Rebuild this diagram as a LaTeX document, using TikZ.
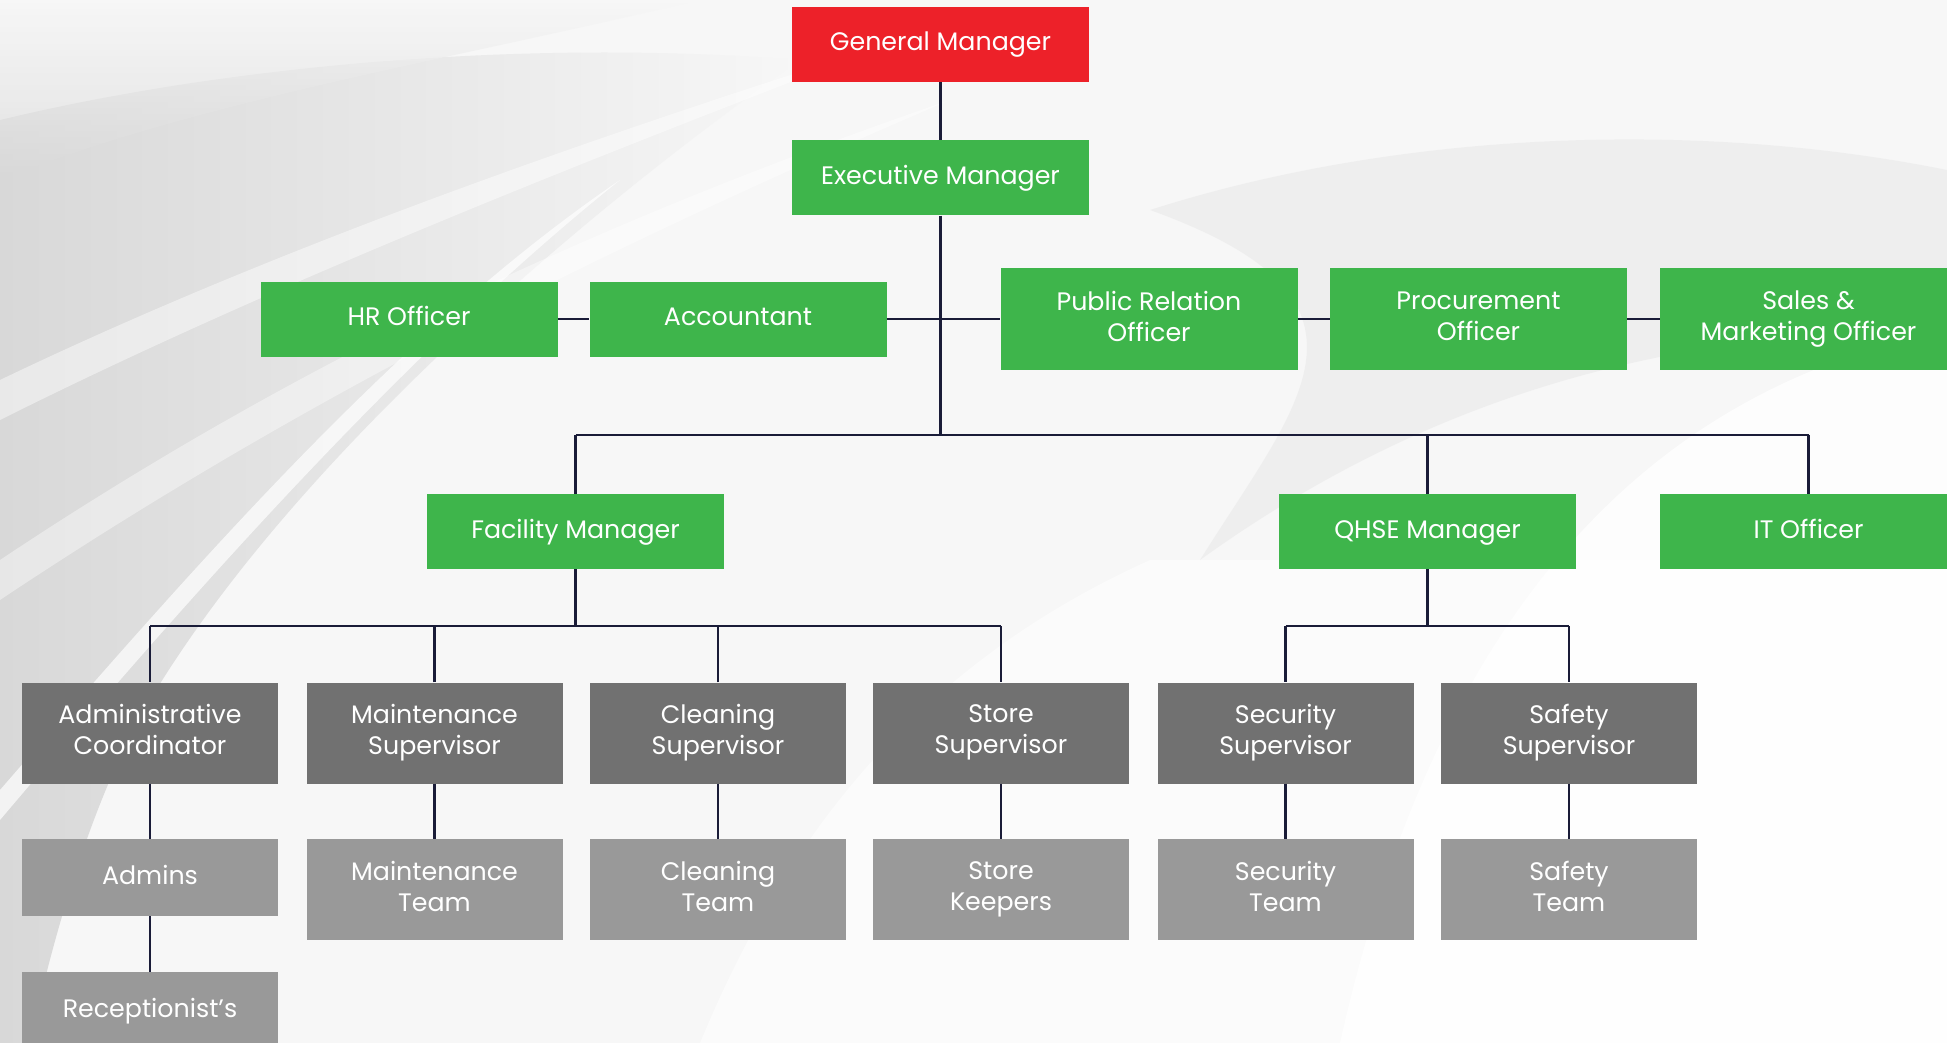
\documentclass[tikz,border=0pt]{standalone}
\usepackage{fontspec}
\setmainfont{Poppins}
\definecolor{gmred}{RGB}{237,33,41}
\definecolor{mgreen}{RGB}{62,181,75}
\definecolor{dgray}{RGB}{113,113,113}
\definecolor{lgray}{RGB}{153,153,153}
\definecolor{lineblue}{RGB}{26,28,56}
\definecolor{bgA}{RGB}{247,247,247}
\definecolor{bgB}{RGB}{216,216,216}
\definecolor{bgC}{RGB}{232,232,232}
\newcommand{\lnstrut}{\rule[-7.2pt]{0pt}{20pt}}
\newcommand{\gnstrut}{\rule[-5.2pt]{0pt}{22pt}}
\begin{document}
\begin{tikzpicture}[x=1pt,y=-1pt,
  box/.style={minimum width=297pt, minimum height=75pt, inner sep=0pt, text=white, align=center,
    font=\fontsize{25.3}{31}\selectfont},
  oneline/.style={text height=19pt, text depth=6pt},
  twoline/.style={execute at begin node=\lnstrut, execute at end node=\lnstrut},
  greentwoline/.style={execute at begin node=\gnstrut, execute at end node=\gnstrut},
  redbox/.style={box, oneline, fill=gmred},
  greenbox/.style={box, oneline, fill=mgreen},
  greentall/.style={box, greentwoline, fill=mgreen, minimum height=101pt},
  supbox/.style={box, twoline, fill=dgray, minimum width=256pt, minimum height=101pt},
  teambox/.style={box, twoline, fill=lgray, minimum width=256pt, minimum height=101pt},
  teamshort/.style={box, oneline, fill=lgray, minimum width=256pt, minimum height=77pt},
  conn/.style={draw=lineblue, line width=2.8pt}]
% background
\clip (0,0) rectangle (1947,1043);
\fill[bgA] (0,0) rectangle (1947,1043);
% left grey swoosh
\shade[left color=bgB, right color=bgA]
  (0,120) .. controls (250,60) and (550,40) .. (800,60)
  .. controls (600,200) and (300,450) .. (150,700)
  .. controls (90,800) and (50,950) .. (30,1043) -- (0,1043) -- cycle;
\shade[top color=bgA, bottom color=bgB, opacity=.7]
  (0,0) -- (700,0) .. controls (450,60) and (200,100) .. (0,180) -- cycle;
% white streaks on the left
\fill[white, opacity=.7] (0,790) .. controls (200,560) and (400,330) .. (620,180)
  .. controls (420,340) and (220,560) .. (0,820) -- cycle;
\fill[white, opacity=.45] (0,380) .. controls (250,260) and (550,150) .. (900,40)
  .. controls (560,170) and (260,290) .. (0,420) -- cycle;
\fill[white, opacity=.4] (0,560) .. controls (300,360) and (600,220) .. (950,100)
  .. controls (600,250) and (300,400) .. (0,600) -- cycle;
% right grey arcs
\fill[bgC, opacity=.55] (1150,210) .. controls (1400,130) and (1700,120) .. (1947,170)
  -- (1947,330) .. controls (1700,330) and (1450,380) .. (1200,560)
  .. controls (1300,400) and (1400,300) .. (1150,210) -- cycle;
\fill[white, opacity=.8] (1947,330) .. controls (1700,380) and (1450,550) .. (1340,1043) -- (1947,1043) -- cycle;
\fill[white, opacity=.5] (700,1043) .. controls (800,800) and (950,650) .. (1150,560) -- (1947,560) -- (1947,1043) -- cycle;
% nodes
\node[redbox]   (gm)  at (940.5,44.5) {General Manager};
\node[greenbox] (ex)  at (940.5,178)  {Executive Manager};
\node[greenbox] (hr)  at (409,319)    {HR Officer};
\node[greenbox] (acc) at (738,319)    {Accountant};
\node[greentall] (pr) at (1149,319)   {Public Relation\\Officer};
\node[greentall] (pc) at (1478.5,319) {Procurement\\Officer};
\node[greentall] (sm) at (1808.5,319) {Sales \&\\Marketing Officer};
\node[greenbox] (fm)  at (575.5,531.5) {Facility Manager};
\node[greenbox] (qh)  at (1427.5,531.5) {QHSE Manager};
\node[greenbox] (it)  at (1808.5,531.5) {IT Officer};
\node[supbox] (adc) at (150,733)    {Administrative\\Coordinator};
\node[supbox] (mns) at (434.5,733)  {Maintenance\\Supervisor};
\node[supbox] (cls) at (718,733)    {Cleaning\\Supervisor};
\node[supbox] (sts) at (1001,733)   {Store\\Supervisor};
\node[supbox] (scs) at (1285.5,733) {Security\\Supervisor};
\node[supbox] (sfs) at (1569,733)   {Safety\\Supervisor};
\node[teamshort] (adm) at (150,877.5) {Admins};
\node[teamshort] (rec) at (150,1010.5) {Receptionist’s};
\node[teambox] (mnt) at (434.5,889.5) {Maintenance\\Team};
\node[teambox] (clt) at (718,889.5)   {Cleaning\\Team};
\node[teambox] (stk) at (1001,889.5)  {Store\\Keepers};
\node[teambox] (sct) at (1285.5,889.5) {Security\\Team};
\node[teambox] (sft) at (1569,889.5)  {Safety\\Team};
% bus coordinates
\coordinate (busL) at (575.5,435);
\coordinate (busR) at (1808.5,435);
\coordinate (fbL) at (150,626);
\coordinate (fbR) at (1001,626);
\coordinate (qbL) at (1285.5,626);
\coordinate (qbR) at (1569,626);
% connectors
\draw[conn] (gm.south) -- (ex.north);
\draw[conn] (ex.south) -- (ex.south |- busL);
\draw[conn] (hr.east) -- (acc.west);
\draw[conn] (acc.east) -- (pr.west);
\draw[conn] (pr.east) -- (pc.west);
\draw[conn] (pc.east) -- (sm.west);
\draw[conn] (busL) -- (busR);
\draw[conn] (busL) -- (fm.north);
\draw[conn] (qh.north) -- (qh.north |- busL);
\draw[conn] (busR) -- (it.north);
\draw[conn] (fm.south) -- (fm.south |- fbL);
\draw[conn] (fbL) -- (fbR);
\draw[conn] (fbL) -- (adc.north);
\draw[conn] (mns.north) -- (mns.north |- fbL);
\draw[conn] (cls.north) -- (cls.north |- fbL);
\draw[conn] (fbR) -- (sts.north);
\draw[conn] (qh.south) -- (qh.south |- qbL);
\draw[conn] (qbL) -- (qbR);
\draw[conn] (qbL) -- (scs.north);
\draw[conn] (qbR) -- (sfs.north);
\draw[conn] (adc.south) -- (adm.north);
\draw[conn] (adm.south) -- (rec.north);
\draw[conn] (mns.south) -- (mnt.north);
\draw[conn] (cls.south) -- (clt.north);
\draw[conn] (sts.south) -- (stk.north);
\draw[conn] (scs.south) -- (sct.north);
\draw[conn] (sfs.south) -- (sft.north);
\end{tikzpicture}
\end{document}
